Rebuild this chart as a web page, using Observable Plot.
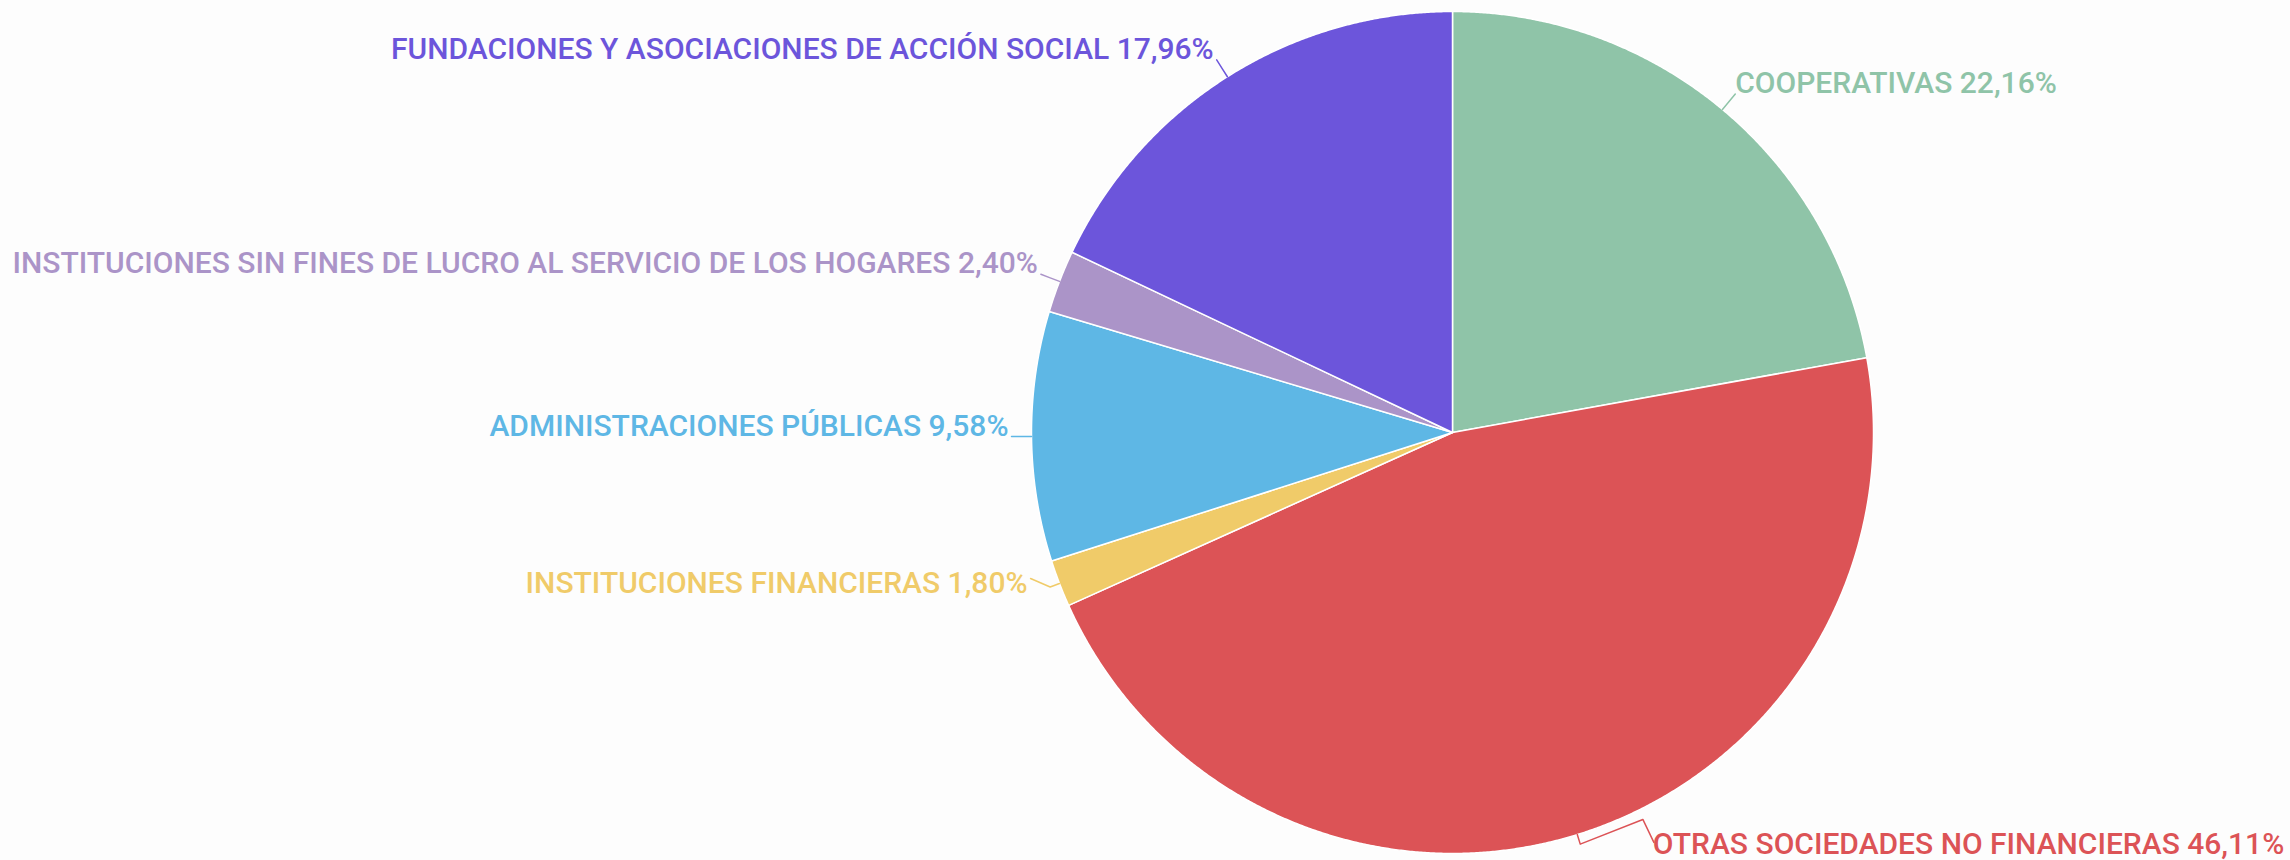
<!DOCTYPE html>
<html><head><meta charset="utf-8">
<script src="https://cdn.jsdelivr.net/npm/d3@7"></script>
<script src="https://cdn.jsdelivr.net/npm/@observablehq/plot@0.6"></script>
<style>html,body{margin:0;padding:0;background:#fdfdfd;}</style>
</head><body><div id="chart"></div>
<script>
// ---- data ----
const categories = [
  "COOPERATIVAS",
  "OTRAS SOCIEDADES NO FINANCIERAS",
  "INSTITUCIONES FINANCIERAS",
  "ADMINISTRACIONES PÚBLICAS",
  "INSTITUCIONES SIN FINES DE LUCRO AL SERVICIO DE LOS HOGARES",
  "FUNDACIONES Y ASOCIACIONES DE ACCIÓN SOCIAL"
];
const values = [22.16, 46.11, 1.80, 9.58, 2.40, 17.96];

// ---- styles / layout ----
const palette = ["#8fc4a8", "#dc5356", "#f0cb69", "#5eb7e5", "#ab94c8", "#6c55db"];
const W = 2290, H = 860, CX = 1452, CY = 432, R = 421;
const FONT = 30;
// leader/label tweaks (pixels) where labels were shifted to avoid collisions
const adjust = {
  1: {kink: [62.6, -24.7], end: [73.6, -1.7], text: [-1, 12]},
  2: {end: [-19.6, -8.5], text: [-3, 14]}
};

const fmt = v => v.toFixed(2).replace(".", ",") + "%";
const arcs = d3.pie().sort(null).value(d => d)(values);

// slice outlines in unit (radius = 1) coordinates
const slices = [];
arcs.forEach((a, i) => {
  const n = Math.max(2, Math.ceil((a.endAngle - a.startAngle) / (Math.PI / 720)));
  slices.push({name: categories[i], color: palette[i], x: 0, y: 0});
  for (let k = 0; k <= n; k++) {
    const t = a.startAngle + (a.endAngle - a.startAngle) * k / n;
    slices.push({name: categories[i], color: palette[i], x: Math.sin(t), y: Math.cos(t)});
  }
});

// pixel offset -> unit offset
const off = (p, d) => [p[0] + d[0] / R, p[1] - d[1] / R];
const polar = (t, px) => [(px / R) * Math.sin(t), (px / R) * Math.cos(t)];

const leaders = [];
const labels = [];
arcs.forEach((a, i) => {
  const t = (a.startAngle + a.endAngle) / 2;
  const right = Math.sin(t) >= 0;
  const p0 = polar(t, R), p1 = polar(t, R + 10);
  const adj = adjust[i];
  const pts = [p0, p1];
  let end, tp;
  if (adj) {
    if (adj.kink) pts.push(off(p1, adj.kink));
    end = off(p1, adj.end);
    tp = off(end, adj.text);
  } else {
    end = polar(t, R + 20);
    tp = off(end, [right ? 0 : -3, -1]);
  }
  pts.push(end);
  pts.forEach(p => leaders.push({name: categories[i], color: palette[i], x: p[0], y: p[1]}));
  labels.push({text: categories[i] + " " + fmt(values[i]), color: palette[i], x: tp[0], y: tp[1], right});
});

const chart = Plot.plot({
  width: W, height: H,
  margin: 0,
  x: {domain: [-1, 1], range: [CX - R, CX + R], axis: null},
  y: {domain: [-1, 1], range: [CY + R, CY - R], axis: null},
  style: {background: "#fdfdfd", fontFamily: "Roboto, sans-serif"},
  marks: [
    Plot.line(slices, {x: "x", y: "y", z: "name", fill: "color", stroke: "#ffffff", strokeWidth: 1.5, curve: "linear-closed", strokeLinejoin: "round"}),
    Plot.line(leaders, {x: "x", y: "y", z: "name", stroke: "color", strokeWidth: 1.5}),
    Plot.text(labels.filter(d => d.right), {x: "x", y: "y", text: "text", fill: "color", textAnchor: "start", lineAnchor: "bottom", fontSize: FONT, fontWeight: 500, fontFamily: "Roboto"}),
    Plot.text(labels.filter(d => !d.right), {x: "x", y: "y", text: "text", fill: "color", textAnchor: "end", lineAnchor: "bottom", fontSize: FONT, fontWeight: 500, fontFamily: "Roboto"})
  ]
});
document.getElementById("chart").appendChild(chart);
</script>
</body></html>
